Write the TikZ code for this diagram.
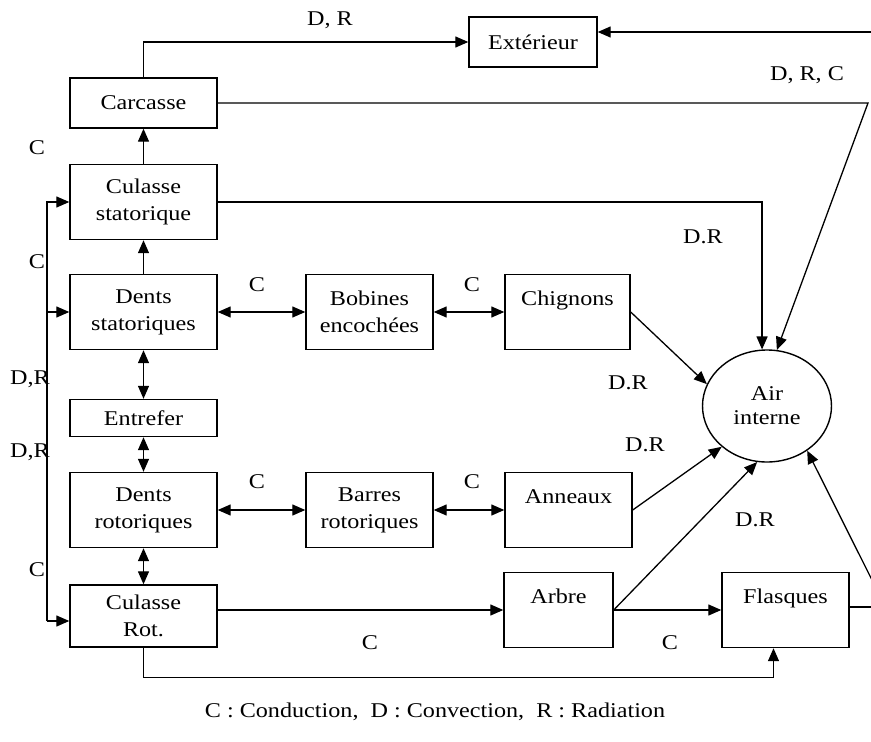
\documentclass[tikz,border=0pt]{standalone}
\usepackage{fontspec}
\setmainfont{Liberation Serif}[FakeStretch=1.15]
\usetikzlibrary{arrows.meta,shapes.geometric,calc}

\begin{document}
\begin{tikzpicture}[x=1pt,y=-1pt,
    box/.style={draw,line width=1.4pt,align=center,inner sep=2pt,minimum width=147pt,minimum height=75pt},
    lbl/.style={inner sep=0pt},
    arr/.style={line width=1.3pt,-{Triangle[length=13pt,width=11pt]}},
    darr/.style={line width=1.3pt,{Triangle[length=13pt,width=11pt]}-{Triangle[length=13pt,width=11pt]}},
    every node/.style={font=\fontsize{21}{27}\selectfont}]
    \useasboundingbox (0,0) rectangle (871,742);

    % stator side
    \node[box,minimum height=50pt] (carcasse) at (143.5,103) {Carcasse};
    \node[box] (culstat) at (143.5,202) {Culasse\\statorique};
    \node[box] (dentstat) at (143.5,312) {Dents\\statoriques};
    \node[box,minimum height=37pt] (entrefer) at (143.5,418) {Entrefer};
    \node[box] (dentrot) at (143.5,510) {Dents\\rotoriques};
    \node[box,minimum height=62pt] (culrot) at (143.5,616) {Culasse\\Rot.};

    \node[box,minimum width=127pt] (bobines) at (369.5,312) {Bobines\\encochées};
    \node[box,minimum width=125pt] (chignons) at (567.5,312) {Chignons\\\mbox{}};
    \node[box,minimum width=127pt] (barres) at (369.5,510) {Barres\\rotoriques};
    \node[box,minimum width=127pt] (anneaux) at (568.5,510) {Anneaux\\\mbox{}};
    \node[box,minimum width=109pt] (arbre) at (558.5,610) {Arbre\\\mbox{}};
    \node[box,minimum width=127pt] (flasques) at (785.5,610) {Flasques\\\mbox{}};

    \node[box,minimum width=128pt,minimum height=50pt] (exterieur) at (533,42) {Extérieur};
    \node[draw,ellipse,line width=1.4pt,minimum width=129pt,minimum height=112pt,align=center,inner sep=0pt] (air) at (767,406) {Air\\[-3pt]interne};

    % free ends at the right border
    \coordinate (e1) at (871,32);
    \coordinate (e2) at (868,103);
    \coordinate (e3) at (871,607);
    \coordinate (e4) at (873,582);
    \coordinate (bb) at (47,621);

    \draw[arr] (carcasse.north) |- (exterieur.west);
    \draw[arr] (e1) -- (exterieur.east |- e1);
    \draw[arr] (carcasse.east) -- (e2) -- (air.80);
    \draw[arr] (culstat.east) -| (air.95);

    \draw[arr] (culstat) -- (carcasse);
    \draw[arr] (dentstat) -- (culstat);
    \draw[darr] (dentstat) -- (entrefer);
    \draw[darr] (entrefer) -- (dentrot);
    \draw[darr] (dentrot) -- (culrot);

    \draw[arr] (bb) |- (culstat.west);
    \draw[arr] (dentstat.west -| bb) -- (dentstat.west);
    \draw[arr] (bb) -- (culrot.west |- bb);

    \draw[darr] (dentstat) -- (bobines);
    \draw[darr] (bobines) -- (chignons);
    \draw[darr] (dentrot) -- (barres);
    \draw[darr] (barres) -- (anneaux);

    \draw[arr] (chignons.east) -- (air.160);
    \draw[arr] (anneaux.east) -- (air.222);
    \draw[arr] (arbre.east) -- (air.260);
    \draw[arr] (arbre) -- (flasques);
    \draw[arr] (culrot.east |- arbre.west) -- (arbre.west);
    \draw[arr] (culrot.south) -- ++(0,30) -| ($(flasques.south)+(-12,0)$);
    \draw[line width=1.3pt] (flasques.east |- e3) -- (e3);
    \draw[arr] (e4) -- (air.-48);

    % labels
    \node[lbl] (l1) at (330,20) {D, R};
    \node[lbl] (l2) at (807,75) {D, R, C};
    \node[lbl] (l3) at (703,237) {D.R};
    \node[lbl] (l4) at (37,148) {C};
    \node[lbl] (l5) at (37,262) {C};
    \node[lbl] (l6) at (30,379) {D,R};
    \node[lbl] (l7) at (30,452) {D,R};
    \node[lbl] (l8) at (37,570) {C};
    \node[lbl] (l9) at (257,285) {C};
    \node[lbl] (l10) at (472,285) {C};
    \node[lbl] (l11) at (257,482) {C};
    \node[lbl] (l12) at (472,482) {C};
    \node[lbl] (l13) at (628,383) {D.R};
    \node[lbl] (l14) at (645,445) {D.R};
    \node[lbl] (l15) at (755,520) {D.R};
    \node[lbl] (l16) at (370,643) {C};
    \node[lbl] (l17) at (670,643) {C};
    \node[lbl] (legend) at (435,712) {C : Conduction,\ \ D : Convection,\ \ R : Radiation};
\end{tikzpicture}
\end{document}
